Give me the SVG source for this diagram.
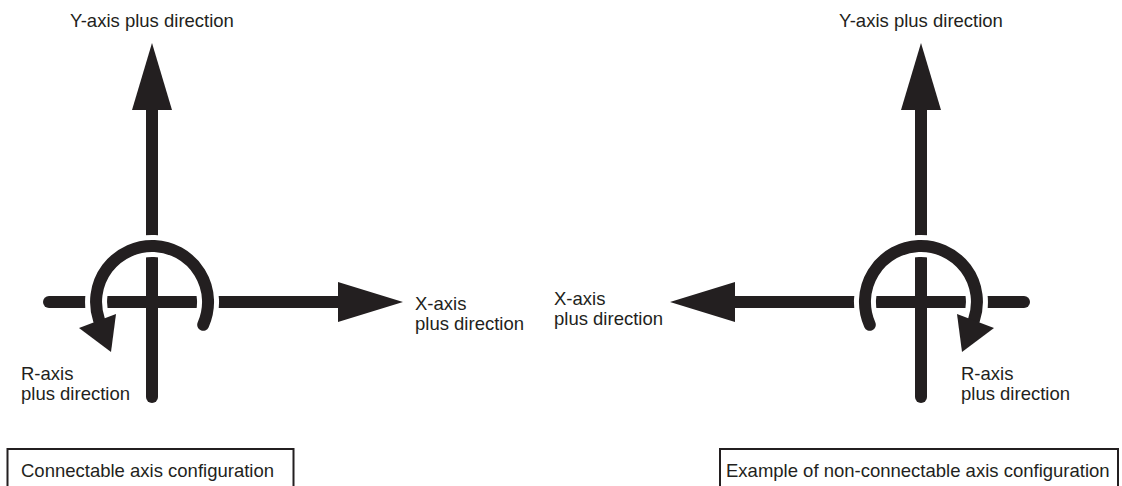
<svg xmlns="http://www.w3.org/2000/svg" width="1122" height="486" viewBox="0 0 1122 486">
<style>
.ax{stroke:#231f20;stroke-width:12;stroke-linecap:round;fill:none}
.halo{stroke:#fff;stroke-width:22;fill:none}
.arc{stroke:#231f20;stroke-width:12;stroke-linecap:round;fill:none}
.hd{fill:#231f20;stroke:none}
.t{font-family:"Liberation Sans",Arial,sans-serif;font-size:18.5px;fill:#231f20}
.box{fill:none;stroke:#231f20;stroke-width:2}
</style>
<rect width="1122" height="486" fill="#fff"/>
<g id="connectable">
  <g id="left-axes">
    <line class="ax" x1="49" y1="302" x2="340" y2="302"/>
    <line class="ax" x1="152" y1="397" x2="152" y2="108"/>
    <polygon class="hd" points="152,43 132,110 172,110"/>
    <polygon class="hd" points="403,302 338,282 338,322"/>
  </g>
  <g id="left-r">
    <path class="halo" d="M203.2,324.8 A56,56 0 1 0 99.1,320.2"/>
    <path class="arc" d="M203.2,324.8 A56,56 0 1 0 99.1,320.2"/>
    <polygon class="hd" points="79,328 116,314 111,352"/>
  </g>
  <text class="t" x="152" y="26.5" text-anchor="middle">Y-axis plus direction</text>
  <text class="t" x="415" y="310">X-axis</text>
  <text class="t" x="415" y="329.5">plus direction</text>
  <text class="t" x="21" y="380">R-axis</text>
  <text class="t" x="21" y="399.5">plus direction</text>
  <g id="left-caption">
    <rect class="box" x="7.5" y="449" width="286" height="50"/>
    <text class="t" x="21" y="476.7">Connectable axis configuration</text>
  </g>
</g>
<g id="non-connectable">
  <g id="right-axes">
    <line class="ax" x1="1024" y1="302" x2="733" y2="302"/>
    <line class="ax" x1="921" y1="397" x2="921" y2="108"/>
    <polygon class="hd" points="921,43 901,110 941,110"/>
    <polygon class="hd" points="670,302 735,282 735,322"/>
  </g>
  <g id="right-r">
    <path class="halo" d="M869.8,324.8 A56,56 0 1 1 973.9,320.2"/>
    <path class="arc" d="M869.8,324.8 A56,56 0 1 1 973.9,320.2"/>
    <polygon class="hd" points="994,328 957,314 962,352"/>
  </g>
  <text class="t" x="921" y="26.5" text-anchor="middle">Y-axis plus direction</text>
  <text class="t" x="554" y="305">X-axis</text>
  <text class="t" x="554" y="324.5">plus direction</text>
  <text class="t" x="961" y="380">R-axis</text>
  <text class="t" x="961" y="399.5">plus direction</text>
  <g id="right-caption">
    <rect class="box" x="720" y="449" width="398" height="50"/>
    <text class="t" x="726" y="476.7">Example of non-connectable axis configuration</text>
  </g>
</g>
</svg>
